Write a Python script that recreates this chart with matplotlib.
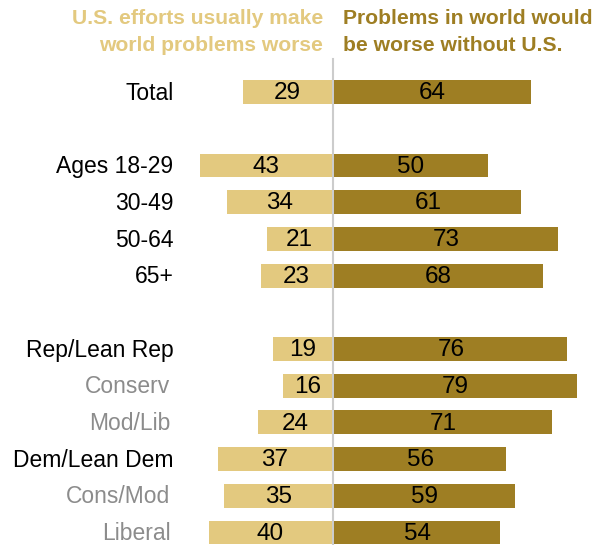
import matplotlib.pyplot as plt

plt.rcParams['font.family'] = ['Liberation Sans', 'DejaVu Sans']

# groups, top to bottom
labels = ["Total", "Ages 18-29", "30-49", "50-64", "65+",
          "Rep/Lean Rep", "Conserv", "Mod/Lib",
          "Dem/Lean Dem", "Cons/Mod", "Liberal"]
worse = [29, 43, 34, 21, 23, 19, 16, 24, 37, 35, 40]
without_us = [64, 50, 61, 73, 68, 76, 79, 71, 56, 59, 54]
sub = [False, False, False, False, False, False, True, True, False, True, True]
rows = [0, 2, 3, 4, 5, 7, 8, 9, 10, 11, 12]

light = "#E3C97F"
dark = "#9E7E23"

fig = plt.figure(figsize=(6.08, 5.45), dpi=100)
ax = fig.add_axes([0, 0, 1, 1])
ax.set_xlim(-108.5, 89.6)
ax.set_ylim(12.34, -2.51)
ax.axis("off")

ax.barh(rows, [-w for w in worse], height=0.65, color=light, left=-0.4)
ax.barh(rows, without_us, height=0.65, color=dark, left=0.4)
ax.plot([0, 0], [-0.9, 12.34], color="#cccccc", lw=1.5, zorder=0)

dy = 0.03  # nudge text down so digits sit in the middle of the bar
for r, lab, w, u, s in zip(rows, labels, worse, without_us, sub):
    if s:
        ax.text(-53, r + dy, lab, ha="right", va="center", fontsize=16.5, color="#8c8c8c")
    else:
        ax.text(-52, r + dy, lab, ha="right", va="center", fontsize=16.5, color="black")
    ax.text(-w / 2 - 0.4, r + dy, str(w), ha="center", va="center", fontsize=17.5)
    ax.text(u / 2 + 0.4, r + dy, str(u), ha="center", va="center", fontsize=17.5)

fig.text(323 / 608, 1 - 32 / 545, "U.S. efforts usually make\nworld problems worse",
         ha="right", va="center", fontsize=15.2, fontweight="bold", color=light,
         linespacing=1.5)
fig.text(343 / 608, 1 - 32 / 545, "Problems in world would\nbe worse without U.S.",
         ha="left", va="center", fontsize=15.2, fontweight="bold", color=dark,
         linespacing=1.5)

fig.savefig("out.png", dpi=100)
